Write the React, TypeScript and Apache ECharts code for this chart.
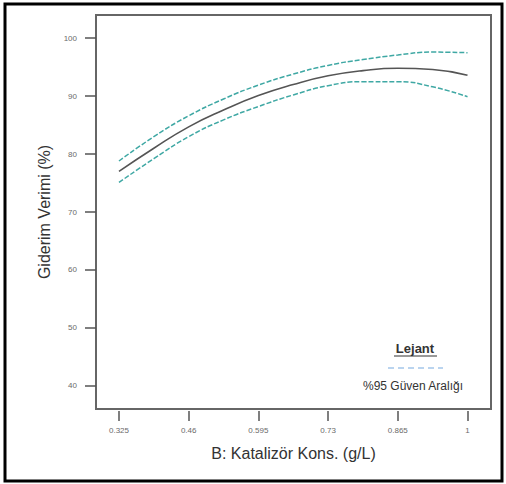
import React, { useEffect, useRef } from "react";
import * as echarts from "echarts";

// Catalyst concentration (g/L) sampled along the curve
const concentration = [0.325, 0.3925, 0.46, 0.5275, 0.595, 0.6625, 0.73, 0.7975, 0.865, 0.9325, 1.0];
// Predicted removal efficiency (%)
const predicted = [77.0, 81.0, 84.7, 87.6, 90.1, 92.0, 93.5, 94.4, 94.8, 94.6, 93.6];
// 95% confidence band
const upperBand = [78.8, 83.0, 86.6, 89.5, 91.9, 93.8, 95.3, 96.3, 97.1, 97.6, 97.5];
const lowerBand = [75.1, 79.2, 83.0, 85.9, 88.2, 90.2, 91.8, 92.5, 92.5, 91.6, 89.9];

const xTicks = [0.325, 0.46, 0.595, 0.73, 0.865, 1];
const yTicks = [40, 50, 60, 70, 80, 90, 100];

const pair = (ys: number[]) => concentration.map((x, i) => [x, ys[i]]);

export default function App() {
  const ref = useRef<HTMLDivElement>(null);

  useEffect(() => {
    if (!ref.current) return;
    const chart = echarts.init(ref.current, null, { renderer: "svg" });
    const font = "'Liberation Sans', Arial, sans-serif";
    const band = {
      type: "line",
      smooth: true,
      showSymbol: false,
      lineStyle: { color: "#3fa8a4", width: 1.5, type: [5, 2] },
    };
    chart.setOption({
      animation: false,
      backgroundColor: "#fff",
      textStyle: { fontFamily: font },
      grid: {
        left: 96,
        top: 15,
        width: 395,
        height: 394,
        show: true,
        borderColor: "#666",
        borderWidth: 2,
      },
      xAxis: {
        type: "value",
        min: 0.2805,
        max: 1.0455,
        offset: 2,
        name: "B: Katalizör Kons. (g/L)",
        nameLocation: "middle",
        nameGap: 34,
        nameTextStyle: { fontSize: 16, color: "#333", fontFamily: font },
        axisLine: { show: false },
        splitLine: { show: false },
        axisTick: {
          show: true,
          length: 10,
          customValues: xTicks,
          lineStyle: { color: "#555", width: 1.5 },
        },
        axisLabel: {
          customValues: xTicks,
          fontSize: 8,
          color: "#6a6a6a",
          margin: 15,
          formatter: (v: number) => String(v),
        },
      },
      yAxis: {
        type: "value",
        min: 36,
        max: 104,
        name: "Giderim Verimi (%)",
        nameLocation: "middle",
        nameGap: 44,
        nameTextStyle: { fontSize: 16, color: "#333", fontFamily: font },
        axisLine: { show: false },
        splitLine: { show: false },
        axisTick: {
          show: true,
          length: 11,
          customValues: yTicks,
          lineStyle: { color: "#555", width: 1.5 },
        },
        axisLabel: {
          customValues: yTicks,
          fontSize: 8,
          color: "#6a6a6a",
          margin: 19,
        },
      },
      series: [
        { ...band, name: "upper", data: pair(upperBand) },
        { ...band, name: "lower", data: pair(lowerBand) },
        {
          type: "line",
          name: "predicted",
          smooth: true,
          showSymbol: false,
          lineStyle: { color: "#555", width: 1.6 },
          data: pair(predicted),
        },
      ],
      graphic: [
        {
          type: "rect",
          shape: { x: 5, y: 4, width: 497, height: 477 },
          style: { fill: "none", stroke: "#000", lineWidth: 3 },
          silent: true,
        },
        {
          type: "text",
          x: 415,
          y: 348,
          style: {
            text: "Lejant",
            fontSize: 13,
            fontWeight: "bold",
            fill: "#333",
            fontFamily: font,
            align: "center",
            verticalAlign: "middle",
          },
        },
        {
          type: "line",
          shape: { x1: 394, y1: 356, x2: 437, y2: 356 },
          style: { stroke: "#333", lineWidth: 1 },
        },
        {
          type: "line",
          shape: { x1: 388, y1: 368, x2: 443, y2: 368 },
          style: { stroke: "#a4c6ea", lineWidth: 1.5, lineDash: [6, 4] },
        },
        {
          type: "text",
          x: 413,
          y: 386,
          style: {
            text: "%95 Güven Aralığı",
            fontSize: 12,
            fill: "#333",
            fontFamily: font,
            align: "center",
            verticalAlign: "middle",
          },
        },
      ],
    });
    return () => chart.dispose();
  }, []);

  return (
    <div
      ref={ref}
      style={{ position: "absolute", left: 0, top: 0, width: 506, height: 484 }}
    />
  );
}
